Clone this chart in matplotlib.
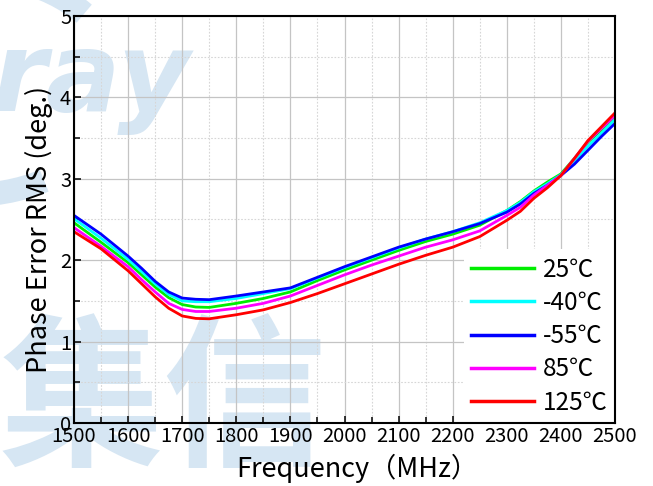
import matplotlib
matplotlib.use("Agg")
import matplotlib.pyplot as plt
from matplotlib.patches import Arc
from matplotlib.ticker import MultipleLocator

plt.rcParams['font.family'] = ['Noto Sans CJK SC', 'DejaVu Sans']

freq = [1500, 1550, 1600, 1625, 1650, 1675, 1700, 1725, 1750, 1800, 1850, 1900,
        1950, 2000, 2050, 2100, 2150, 2200, 2250, 2300, 2325, 2350, 2375, 2400,
        2425, 2450, 2475, 2500]

t25 = [2.46, 2.22, 1.97, 1.82, 1.67, 1.54, 1.455, 1.425, 1.42, 1.47, 1.53, 1.61,
       1.75, 1.88, 2.00, 2.12, 2.23, 2.32, 2.43, 2.61, 2.72, 2.85, 2.96, 3.06,
       3.25, 3.45, 3.60, 3.76]
tm40 = [2.51, 2.27, 2.01, 1.86, 1.71, 1.58, 1.50, 1.49, 1.49, 1.53, 1.59, 1.65,
        1.78, 1.91, 2.03, 2.15, 2.26, 2.35, 2.46, 2.61, 2.71, 2.84, 2.94, 3.05,
        3.22, 3.40, 3.56, 3.73]
tm55 = [2.55, 2.32, 2.05, 1.90, 1.74, 1.61, 1.535, 1.52, 1.515, 1.56, 1.61, 1.66,
        1.79, 1.92, 2.04, 2.16, 2.26, 2.35, 2.45, 2.59, 2.69, 2.82, 2.92, 3.04,
        3.18, 3.35, 3.52, 3.68]
t85 = [2.40, 2.17, 1.92, 1.76, 1.61, 1.47, 1.395, 1.37, 1.37, 1.41, 1.47, 1.56,
       1.69, 1.82, 1.94, 2.05, 2.16, 2.25, 2.36, 2.55, 2.65, 2.80, 2.92, 3.04,
       3.25, 3.46, 3.62, 3.78]
t125 = [2.35, 2.14, 1.87, 1.71, 1.55, 1.41, 1.315, 1.285, 1.28, 1.33, 1.39, 1.48,
        1.59, 1.71, 1.83, 1.95, 2.06, 2.16, 2.29, 2.49, 2.60, 2.76, 2.89, 3.04,
        3.25, 3.47, 3.64, 3.81]

series = [t25, tm40, tm55, t85, t125]
labels = ['25℃', '-40℃', '-55℃', '85℃', '125℃']
colors = ['#00ee00', '#00ffff', '#0000ff', '#ff00ff', '#ff0000']

W, H = 653, 486
fig = plt.figure(figsize=(W / 100, H / 100), dpi=100)
fig.patch.set_facecolor('white')

wm = '#d6e6f3'
# watermark (logo) behind the plot
fig.text(0 / W, 1 - 322 / H, '集信', fontsize=118, fontweight='bold', color=wm,
         ha='left', va='top', zorder=0)
fig.text(-8 / W, 1 - 28 / H, 'ray', fontsize=80, fontweight='bold', fontstyle='italic',
         family='DejaVu Sans', color=wm, ha='left', va='top', zorder=0)
arc = Arc((-30 / W, 1 - 85 / H), 300 / W, 220 / H, angle=0, theta1=40, theta2=300,
          transform=fig.transFigure, color=wm, lw=17, zorder=0)
fig.patches.append(arc)

ax = fig.add_axes([74 / W, 1 - 423 / H, (615 - 74) / W, (423 - 16) / H])
ax.set_facecolor('none')
ax.set_zorder(2)

for vals, lab, c in zip(series, labels, colors):
    ax.plot(freq, vals, color=c, lw=2.0, label=lab, zorder=3)

ax.set_xlim(1500, 2500)
ax.set_ylim(0, 5)
ax.xaxis.set_major_locator(MultipleLocator(100))
ax.xaxis.set_minor_locator(MultipleLocator(50))
ax.yaxis.set_major_locator(MultipleLocator(1))
ax.yaxis.set_minor_locator(MultipleLocator(0.5))

ax.grid(which='major', color='#c4c4c4', lw=0.9, ls='-', zorder=1)
ax.grid(which='minor', color='#d6d6d6', lw=0.8, ls=(0, (1.5, 1.5)), zorder=1)
ax.set_axisbelow(True)

ax.tick_params(which='both', direction='in', top=False, right=False,
               width=1.1, color='black', labelsize=14.5, pad=2)
ax.tick_params(which='major', length=5)
ax.tick_params(which='minor', length=4.5)
for sp in ax.spines.values():
    sp.set_linewidth(1.5)
    sp.set_color('black')
    sp.set_zorder(6)

ax.set_xlabel('Frequency（MHz）', fontsize=19.5)
ax.xaxis.set_label_coords(0.523, -0.076)
ax.set_ylabel('Phase Error RMS (deg.)', fontsize=19.5)
ax.yaxis.set_label_coords(-0.038, 0.475)

leg = ax.legend(loc='lower right', fontsize=17.5, frameon=True, fancybox=False,
                edgecolor='none', facecolor='white', framealpha=1,
                handlelength=2.6, handletextpad=0.35, labelspacing=0.3,
                borderaxespad=0.0, borderpad=0.3)
for l in leg.get_lines():
    l.set_linewidth(2.5)
leg.set_zorder(5)

fig.savefig('out.png', dpi=100, facecolor='white')
